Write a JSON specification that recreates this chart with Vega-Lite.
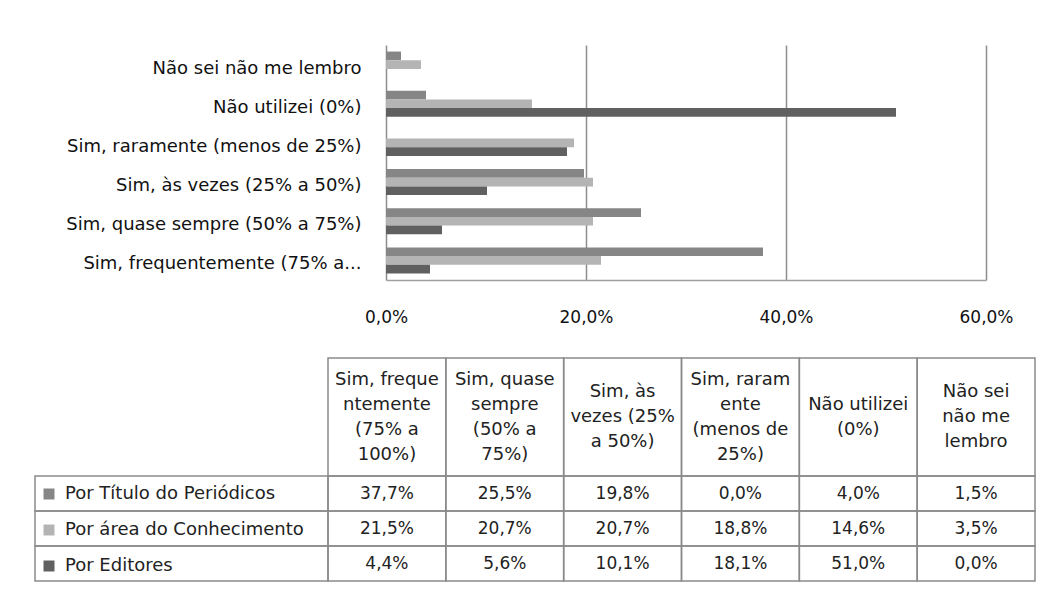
{
  "$schema": "https://vega.github.io/schema/vega-lite/v6.json",
  "padding": {"left": 34, "top": 45, "right": 0, "bottom": 0},
  "background": "white",
  "columns": 2,
  "spacing": 0,
  "bounds": "flush",
  "resolve": {"scale": {"x": "independent", "y": "independent"}},
  "datasets": {
    "main": [
      {"cat": "Sim, frequentemente (75% a 100%)", "series": "Por Título do Periódicos", "value": 0.377},
      {"cat": "Sim, frequentemente (75% a 100%)", "series": "Por área do Conhecimento", "value": 0.215},
      {"cat": "Sim, frequentemente (75% a 100%)", "series": "Por Editores", "value": 0.044},
      {"cat": "Sim, quase sempre (50% a 75%)", "series": "Por Título do Periódicos", "value": 0.255},
      {"cat": "Sim, quase sempre (50% a 75%)", "series": "Por área do Conhecimento", "value": 0.207},
      {"cat": "Sim, quase sempre (50% a 75%)", "series": "Por Editores", "value": 0.056},
      {"cat": "Sim, às vezes (25% a 50%)", "series": "Por Título do Periódicos", "value": 0.198},
      {"cat": "Sim, às vezes (25% a 50%)", "series": "Por área do Conhecimento", "value": 0.207},
      {"cat": "Sim, às vezes (25% a 50%)", "series": "Por Editores", "value": 0.101},
      {"cat": "Sim, raramente (menos de 25%)", "series": "Por Título do Periódicos", "value": 0.0},
      {"cat": "Sim, raramente (menos de 25%)", "series": "Por área do Conhecimento", "value": 0.188},
      {"cat": "Sim, raramente (menos de 25%)", "series": "Por Editores", "value": 0.181},
      {"cat": "Não utilizei (0%)", "series": "Por Título do Periódicos", "value": 0.04},
      {"cat": "Não utilizei (0%)", "series": "Por área do Conhecimento", "value": 0.146},
      {"cat": "Não utilizei (0%)", "series": "Por Editores", "value": 0.51},
      {"cat": "Não sei não me lembro", "series": "Por Título do Periódicos", "value": 0.015},
      {"cat": "Não sei não me lembro", "series": "Por área do Conhecimento", "value": 0.035},
      {"cat": "Não sei não me lembro", "series": "Por Editores", "value": 0.0}
    ],
    "head": [
      {"cat": "Sim, frequentemente (75% a 100%)", "label": "Sim, freque\nntemente\n(75% a\n100%)"},
      {"cat": "Sim, quase sempre (50% a 75%)", "label": "Sim, quase\nsempre\n(50% a\n75%)"},
      {"cat": "Sim, às vezes (25% a 50%)", "label": "Sim, às\nvezes (25%\na 50%)"},
      {"cat": "Sim, raramente (menos de 25%)", "label": "Sim, raram\nente\n(menos de\n25%)"},
      {"cat": "Não utilizei (0%)", "label": "Não utilizei\n(0%)"},
      {"cat": "Não sei não me lembro", "label": "Não sei\nnão me\nlembro"}
    ],
    "series": [
      {"series": "Por Título do Periódicos"},
      {"series": "Por área do Conhecimento"},
      {"series": "Por Editores"}
    ]
  },
  "concat": [
    {
      "width": 293, "height": 313,
      "data": {"values": []},
      "mark": "rect",
      "encoding": {}
    },
    {
      "width": 707, "height": 235,
      "data": {"name": "main"},
      "mark": {"type": "bar"},
      "encoding": {
        "y": {
          "field": "cat", "type": "nominal",
          "sort": ["Não sei não me lembro", "Não utilizei (0%)", "Sim, raramente (menos de 25%)", "Sim, às vezes (25% a 50%)", "Sim, quase sempre (50% a 75%)", "Sim, frequentemente (75% a 100%)"],
          "scale": {"paddingInner": 0.335, "paddingOuter": 0.1675},
          "axis": {"title": null, "offset": -58, "labelExpr": "replace(datum.label, ' 100%)', '...')", "ticks": false, "domain": false, "labelPadding": 25, "labelOffset": 4, "labelFontSize": 18, "labelLimit": 400}
        },
        "yOffset": {"field": "series", "type": "nominal", "sort": ["Por Título do Periódicos", "Por área do Conhecimento", "Por Editores"]},
        "x": {
          "field": "value", "type": "quantitative",
          "scale": {"domain": [0, 0.6], "range": [58, 658], "nice": false},
          "axis": {"title": null, "values": [0, 0.2, 0.4, 0.6], "format": ".1%", "grid": true, "gridColor": "#8c8c8c", "gridWidth": 1.5, "domain": true, "domainColor": "#a0a0a0", "domainWidth": 1.5, "ticks": false, "labelPadding": 29, "labelFontSize": 17, "labelFlush": false}
        },
        "color": {
          "field": "series", "type": "nominal",
          "scale": {"domain": ["Por Título do Periódicos", "Por área do Conhecimento", "Por Editores"], "range": ["#868686", "#b4b4b4", "#606060"]},
          "legend": {"orient": "none", "legendX": 5, "legendY": 440, "title": null, "direction": "vertical", "symbolType": "square", "symbolSize": 121, "symbolStrokeWidth": 0, "labelFontSize": 18, "labelFont": "DejaVu Sans", "labelColor": "#222", "labelLimit": 300, "rowPadding": 18, "labelOffset": 7}
        }
      }
    },
    {
      "width": 293, "height": 118,
      "data": {"values": []},
      "mark": "rect",
      "encoding": {}
    },
    {
      "width": 707, "height": 118,
      "data": {"name": "head"},
      "layer": [
        {
          "mark": {"type": "rect", "filled": false, "stroke": "#8a8a8a", "strokeWidth": 1.5},
          "encoding": {
            "x": {"field": "cat", "type": "nominal", "sort": ["Sim, frequentemente (75% a 100%)", "Sim, quase sempre (50% a 75%)", "Sim, às vezes (25% a 50%)", "Sim, raramente (menos de 25%)", "Não utilizei (0%)", "Não sei não me lembro"], "scale": {"paddingInner": 0, "paddingOuter": 0}, "axis": null}
          }
        },
        {
          "transform": [{"filter": {"field": "cat", "oneOf": ["Sim, frequentemente (75% a 100%)", "Sim, quase sempre (50% a 75%)", "Sim, raramente (menos de 25%)"]}}],
          "mark": {"type": "text", "lineBreak": "\n", "fontSize": 18, "lineHeight": 25, "baseline": "middle", "align": "center", "color": "#222", "dy": -37.5},
          "encoding": {
            "x": {"field": "cat", "type": "nominal", "sort": ["Sim, frequentemente (75% a 100%)", "Sim, quase sempre (50% a 75%)", "Sim, às vezes (25% a 50%)", "Sim, raramente (menos de 25%)", "Não utilizei (0%)", "Não sei não me lembro"], "axis": null},
            "text": {"field": "label", "type": "nominal"}
          }
        },
        {
          "transform": [{"filter": {"field": "cat", "oneOf": ["Sim, às vezes (25% a 50%)", "Não sei não me lembro"]}}],
          "mark": {"type": "text", "lineBreak": "\n", "fontSize": 18, "lineHeight": 25, "baseline": "middle", "align": "center", "color": "#222", "dy": -25},
          "encoding": {
            "x": {"field": "cat", "type": "nominal", "sort": ["Sim, frequentemente (75% a 100%)", "Sim, quase sempre (50% a 75%)", "Sim, às vezes (25% a 50%)", "Sim, raramente (menos de 25%)", "Não utilizei (0%)", "Não sei não me lembro"], "axis": null},
            "text": {"field": "label", "type": "nominal"}
          }
        },
        {
          "transform": [{"filter": {"field": "cat", "oneOf": ["Não utilizei (0%)"]}}],
          "mark": {"type": "text", "lineBreak": "\n", "fontSize": 18, "lineHeight": 25, "baseline": "middle", "align": "center", "color": "#222", "dy": -12.5},
          "encoding": {
            "x": {"field": "cat", "type": "nominal", "sort": ["Sim, frequentemente (75% a 100%)", "Sim, quase sempre (50% a 75%)", "Sim, às vezes (25% a 50%)", "Sim, raramente (menos de 25%)", "Não utilizei (0%)", "Não sei não me lembro"], "axis": null},
            "text": {"field": "label", "type": "nominal"}
          }
        }
      ]
    },
    {
      "width": 293, "height": 105,
      "data": {"name": "series"},
      "mark": {"type": "rect", "filled": false, "stroke": "#8a8a8a", "strokeWidth": 1.5},
      "encoding": {
        "y": {"field": "series", "type": "nominal", "sort": ["Por Título do Periódicos", "Por área do Conhecimento", "Por Editores"], "scale": {"paddingInner": 0, "paddingOuter": 0}, "axis": null}
      }
    },
    {
      "width": 707, "height": 105,
      "data": {"name": "main"},
      "layer": [
        {
          "mark": {"type": "rect", "filled": false, "stroke": "#8a8a8a", "strokeWidth": 1.5},
          "encoding": {
            "x": {"field": "cat", "type": "nominal", "sort": ["Sim, frequentemente (75% a 100%)", "Sim, quase sempre (50% a 75%)", "Sim, às vezes (25% a 50%)", "Sim, raramente (menos de 25%)", "Não utilizei (0%)", "Não sei não me lembro"], "scale": {"paddingInner": 0, "paddingOuter": 0}, "axis": null},
            "y": {"field": "series", "type": "nominal", "sort": ["Por Título do Periódicos", "Por área do Conhecimento", "Por Editores"], "scale": {"paddingInner": 0, "paddingOuter": 0}, "axis": null}
          }
        },
        {
          "mark": {"type": "text", "fontSize": 17, "baseline": "middle", "align": "center", "color": "#222"},
          "encoding": {
            "x": {"field": "cat", "type": "nominal", "sort": ["Sim, frequentemente (75% a 100%)", "Sim, quase sempre (50% a 75%)", "Sim, às vezes (25% a 50%)", "Sim, raramente (menos de 25%)", "Não utilizei (0%)", "Não sei não me lembro"], "axis": null},
            "y": {"field": "series", "type": "nominal", "sort": ["Por Título do Periódicos", "Por área do Conhecimento", "Por Editores"], "axis": null},
            "text": {"field": "value", "type": "quantitative", "format": ".1%"}
          }
        }
      ]
    }
  ],
  "config": {
    "view": {"stroke": null},
    "font": "DejaVu Sans",
    "locale": {"number": {"decimal": ",", "thousands": ".", "grouping": [3], "currency": ["", ""]}},
    "axis": {"labelFont": "DejaVu Sans", "labelColor": "#111"},
    "text": {"font": "DejaVu Sans"}
  }
}
